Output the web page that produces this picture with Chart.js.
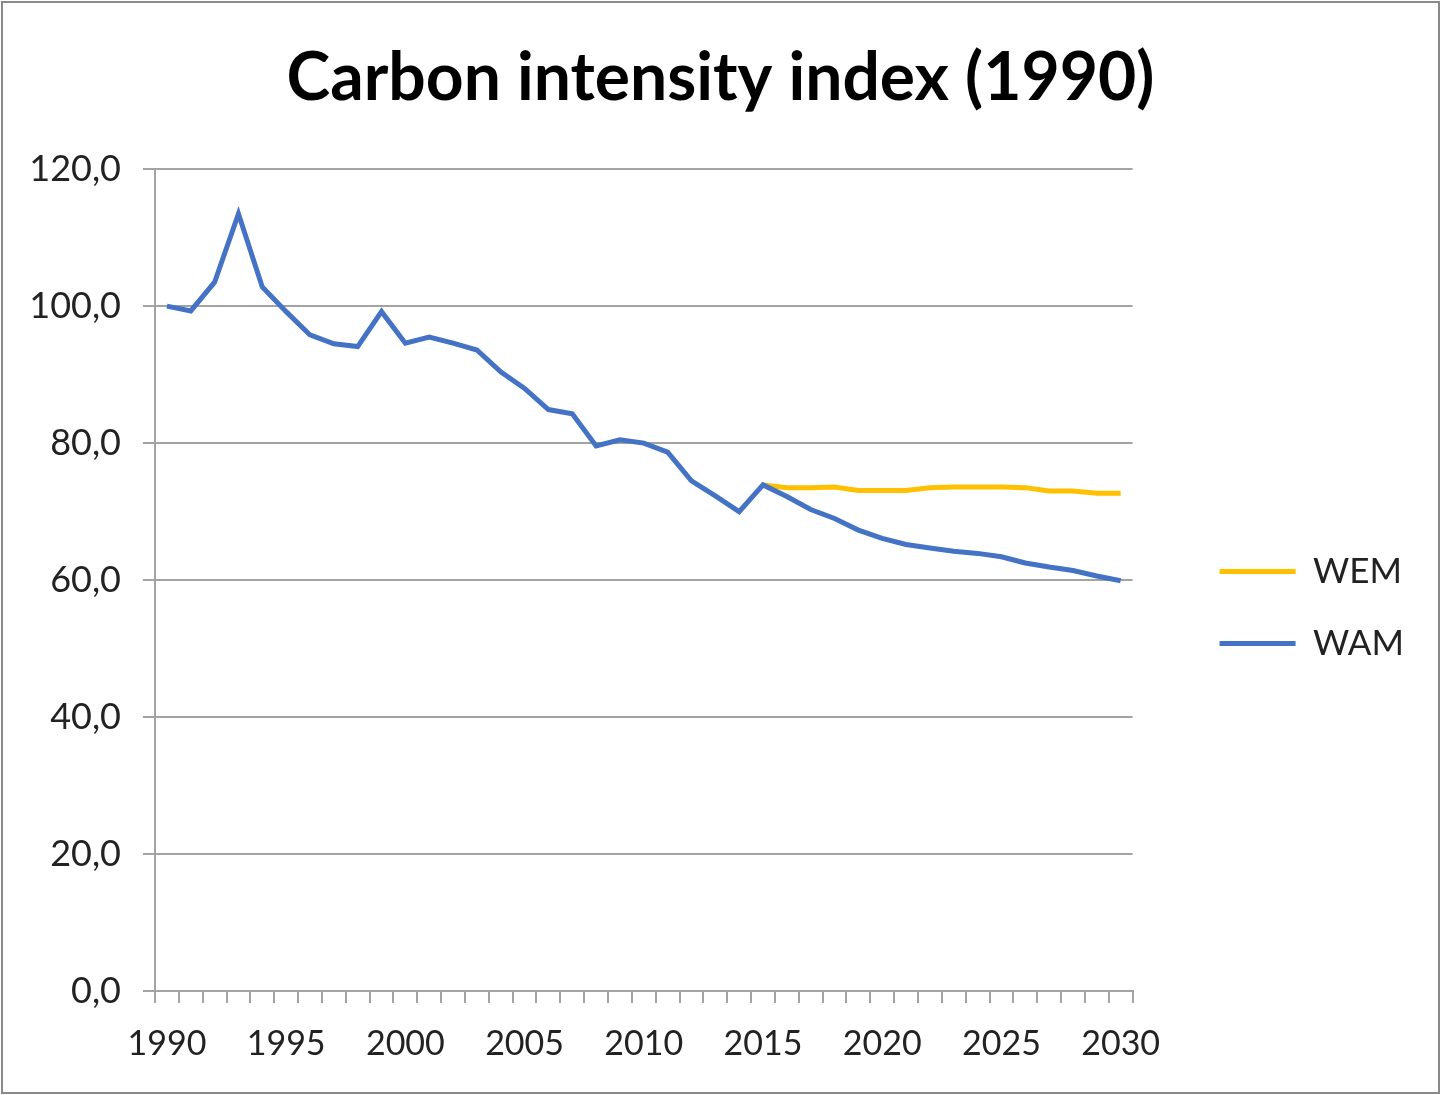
<!DOCTYPE html>
<html>
<head>
<meta charset="utf-8">
<script src="https://cdn.jsdelivr.net/npm/chart.js@4/dist/chart.umd.min.js"></script>
<style>
    html, body { margin: 0; padding: 0; background: #fff; }
    #wrap { position: relative; width: 1441px; height: 1095px; }
    #frame {
        position: absolute; left: 1px; top: 1px; width: 1435px; height: 1089px;
        border: 2px solid #8a8a8a; pointer-events: none;
    }
</style>
</head>
<body>
<div id="wrap">
    <canvas id="chart" width="1441" height="1095"></canvas>
    <div id="frame"></div>
</div>
<script>
    // 年份（类别）
    const years = ['1990', '1991', '1992', '1993', '1994', '1995', '1996', '1997', '1998', '1999',
                   '2000', '2001', '2002', '2003', '2004', '2005', '2006', '2007', '2008', '2009',
                   '2010', '2011', '2012', '2013', '2014', '2015', '2016', '2017', '2018', '2019',
                   '2020', '2021', '2022', '2023', '2024', '2025', '2026', '2027', '2028', '2029', '2030'];

    // WEM 情景（2015 年起）
    const wemValues = [null, null, null, null, null, null, null, null, null, null,
                       null, null, null, null, null, null, null, null, null, null,
                       null, null, null, null, null, 73.9, 73.5, 73.5, 73.6, 73.1,
                       73.1, 73.1, 73.5, 73.6, 73.6, 73.6, 73.5, 73.0, 73.0, 72.7, 72.7];

    // WAM 情景（含历史数据）
    const wamValues = [100.0, 99.3, 103.5, 113.5, 102.8, 99.2, 95.8, 94.5, 94.1, 99.2,
                       94.6, 95.5, 94.6, 93.6, 90.4, 88.0, 84.9, 84.3, 79.6, 80.5,
                       80.0, 78.7, 74.5, 72.3, 70.0, 73.9, 72.2, 70.3, 69.0, 67.3,
                       66.1, 65.2, 64.7, 64.2, 63.9, 63.4, 62.5, 61.9, 61.4, 60.6, 59.9];

    const yTicks = [0, 20, 40, 60, 80, 100, 120];

    const FONT = 'Lato, "Open Sans", sans-serif';
    const GRID = '#a3a3a3';

    // 标题在整张画布上居中（不受图例右侧留白影响）
    const titleFullWidth = {
        id: 'titleFullWidth',
        afterLayout(chart) {
            const t = chart.titleBlock;
            if (!t) return;
            t.left = 0;
            t.right = chart.width;
            t.width = chart.width;
        }
    };

    new Chart(document.getElementById('chart'), {
        type: 'line',
        data: {
            labels: years,
            datasets: [
                {
                    label: 'WEM',
                    data: wemValues,
                    borderColor: '#FFC000',
                    backgroundColor: '#FFC000',
                    borderWidth: 5,
                    pointRadius: 0,
                    tension: 0,
                    order: 1
                },
                {
                    label: 'WAM',
                    data: wamValues,
                    borderColor: '#4472C4',
                    backgroundColor: '#4472C4',
                    borderWidth: 5,
                    pointRadius: 0,
                    tension: 0,
                    order: 0
                }
            ]
        },
        options: {
            responsive: false,
            animation: false,
            layout: { padding: { left: 0, right: 27, top: 0, bottom: 0 } },
            plugins: {
                title: {
                    display: true,
                    text: 'Carbon intensity index (1990)',
                    color: '#000',
                    font: { family: FONT, size: 66, weight: 'bold', lineHeight: 1.2 },
                    padding: { top: 39, bottom: 51 }
                },
                legend: {
                    position: 'right',
                    fullSize: false,
                    title: { display: true, text: '', font: { size: 15, lineHeight: 1 }, padding: 20 },
                    labels: {
                        usePointStyle: true,
                        pointStyle: 'line',
                        pointStyleWidth: 76,
                        padding: 37,
                        color: '#222',
                        font: { family: FONT, size: 35 },
                        sort: (a, b) => a.datasetIndex - b.datasetIndex
                    }
                },
                tooltip: { enabled: false }
            },
            scales: {
                x: {
                    offset: true,
                    grid: {
                        offset: true,
                        drawOnChartArea: false,
                        drawTicks: true,
                        tickLength: 12,
                        color: GRID,
                        lineWidth: 2
                    },
                    border: { display: true, color: GRID, width: 2 },
                    ticks: {
                        autoSkip: false,
                        maxRotation: 0,
                        padding: 21,
                        color: '#222',
                        font: { family: FONT, size: 34 },
                        callback: function(value, index) {
                            const y = Number(years[index]);
                            return y % 5 === 0 ? years[index] : '';
                        }
                    },
                    afterFit: function(scale) { scale.height = 104; }
                },
                y: {
                    min: 0,
                    max: 120,
                    afterBuildTicks: function(scale) {
                        scale.ticks = yTicks.map(v => ({ value: v }));
                    },
                    grid: { color: GRID, lineWidth: 2, tickLength: 12 },
                    border: { display: true, color: GRID, width: 2 },
                    ticks: {
                        padding: 22,
                        color: '#222',
                        font: { family: FONT, size: 36 },
                        callback: v => v.toFixed(1).replace('.', ',')
                    },
                    afterFit: function(scale) { scale.width = 155; }
                },
                gap: {
                    type: 'linear',
                    position: 'right',
                    display: true,
                    grid: { display: false, drawTicks: false },
                    border: { display: false },
                    ticks: { display: false },
                    afterFit: function(scale) { scale.width = 50; }
                }
            }
        },
        plugins: [titleFullWidth]
    });
</script>
</body>
</html>
